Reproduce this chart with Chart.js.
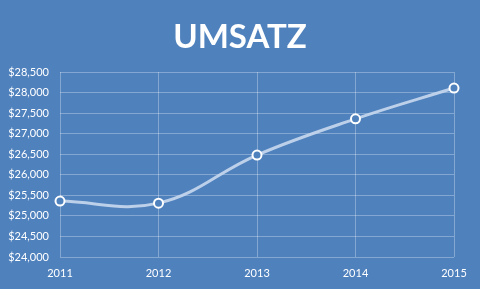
<!DOCTYPE html>
<html lang="de">
<head>
    <meta charset="UTF-8">
    <title>Umsatz</title>
    <style>
        body {
            margin: 0;
            padding: 0;
            background: #4F81BD;
        }
        #wrap {
            width: 480px;
            height: 289px;
        }
    </style>
</head>
<body>
    <div id="wrap"><canvas id="umsatzChart"></canvas></div>

    <script src="https://cdn.jsdelivr.net/npm/chart.js"></script>
    <script>
        // Daten
        const jahre = ['2011', '2012', '2013', '2014', '2015'];
        const umsatz = [25360, 25310, 26480, 27360, 28110];
        const yMin = 24000;
        const yMax = 28500;
        const yStep = 500;
        const titel = 'UMSATZ';

        // Titel mittig über die ganze Breite (Chart-Titel wäre durch rechtes Padding verschoben)
        const titelPlugin = {
            id: 'titelMitte',
            afterDraw: function (chart) {
                const c = chart.ctx;
                c.save();
                c.fillStyle = '#ffffff';
                c.font = 'bold 33px Lato';
                c.textAlign = 'center';
                c.textBaseline = 'alphabetic';
                c.fillText(titel, chart.width / 2, 48);
                c.restore();
            }
        };

        const ctx = document.getElementById('umsatzChart').getContext('2d');
        new Chart(ctx, {
            type: 'line',
            data: {
                labels: jahre,
                datasets: [{
                    label: 'Umsatz',
                    data: umsatz,
                    borderColor: 'rgba(200, 216, 238, 0.9)',
                    borderWidth: 3,
                    tension: 0.4,
                    pointRadius: 4.5,
                    pointBorderWidth: 2,
                    pointBorderColor: '#ffffff',
                    pointBackgroundColor: '#4F81BD'
                }]
            },
            plugins: [titelPlugin],
            options: {
                responsive: true,
                maintainAspectRatio: false,
                animation: false,
                layout: {
                    padding: { left: 0, right: 26, top: 72, bottom: 0 }
                },
                plugins: {
                    legend: { display: false },
                    tooltip: { enabled: false },
                    title: { display: false }
                },
                scales: {
                    x: {
                        offset: false,
                        grid: {
                            color: 'rgba(255, 255, 255, 0.3)',
                            drawTicks: false
                        },
                        border: { display: false },
                        ticks: {
                            color: '#ffffff',
                            font: { family: 'Lato', size: 11 },
                            padding: 10,
                            maxRotation: 0
                        },
                        afterFit: function (scale) { scale.height = 32; }
                    },
                    y: {
                        min: yMin,
                        max: yMax,
                        grid: {
                            color: 'rgba(255, 255, 255, 0.3)',
                            drawTicks: false
                        },
                        border: { display: false },
                        ticks: {
                            stepSize: yStep,
                            color: '#ffffff',
                            font: { family: 'Lato', size: 11 },
                            padding: 11,
                            callback: function (v) { return '$' + v.toLocaleString('en-US'); }
                        },
                        afterFit: function (scale) { scale.width = 60; }
                    }
                }
            }
        });
    </script>
</body>
</html>
